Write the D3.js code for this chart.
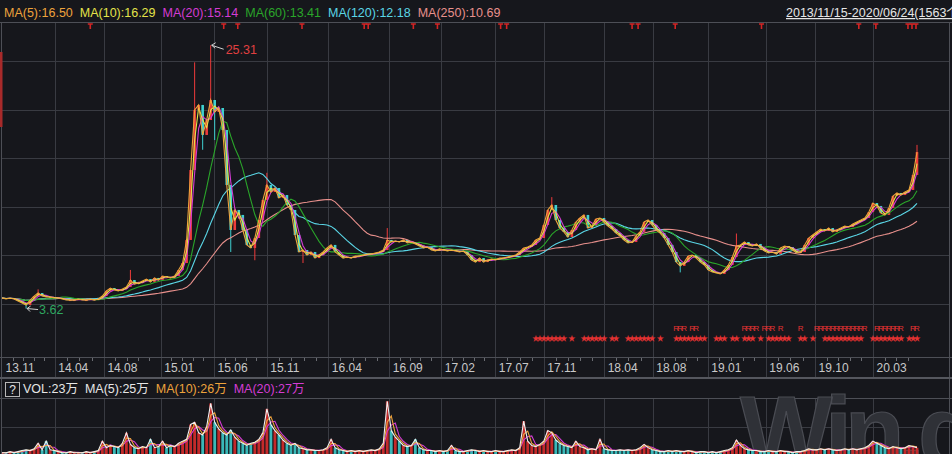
<!DOCTYPE html>
<html><head><meta charset="utf-8">
<script src="https://cdn.jsdelivr.net/npm/d3@7"></script>
<style>
html,body{margin:0;padding:0;background:#16171c;overflow:hidden}
svg{display:block;font-family:"Liberation Sans",Arial,"Noto Sans CJK SC",sans-serif}
</style></head><body>
<svg id="c" width="952" height="454"></svg>
<script>
// ---- data (sampled roughly every ~7 trading days, 2013/11/15 - 2020/06/24) ----
const closes = [
4.49,4.41,4.49,4.41,4.24,4.08,3.91,4.32,4.65,4.90,
4.65,4.57,4.57,4.49,4.49,4.41,4.32,4.32,4.32,4.41,
4.32,4.32,4.41,4.32,4.41,4.65,5.07,5.31,5.15,5.07,
5.23,5.40,5.97,5.64,5.72,5.89,6.05,5.81,6.14,5.97,
6.30,6.22,6.14,6.30,6.80,7.37,9.27,15.03,19.98,20.39,
17.92,19.15,20.80,19.81,20.14,18.33,13.80,10.09,11.74,11.33,
10.09,8.86,8.61,9.43,10.91,12.56,13.80,13.22,13.55,12.73,
12.97,12.15,11.74,9.68,8.28,8.44,8.03,8.28,7.78,8.03,
8.28,8.61,8.86,8.28,8.03,7.78,7.87,7.78,7.95,7.95,
8.03,8.11,8.11,8.20,8.28,8.44,9.27,9.10,9.18,9.10,
9.27,9.02,9.10,8.94,8.77,8.61,8.69,8.44,8.36,8.53,
8.44,8.36,8.44,8.36,8.28,8.36,8.03,7.62,7.45,7.78,
7.45,7.62,7.70,7.62,7.78,7.78,7.87,7.95,8.03,8.28,
8.61,8.69,8.86,9.27,9.43,10.50,11.74,12.15,10.91,10.25,
9.93,9.51,10.09,10.75,11.08,11.33,10.25,10.42,11.00,11.08,
10.75,10.42,10.17,9.84,9.60,9.27,9.02,9.10,9.60,9.93,
10.75,10.91,10.50,10.09,9.84,9.43,8.86,8.28,7.45,7.13,
7.45,7.95,8.03,7.78,7.45,7.21,6.80,6.63,6.55,6.47,
6.80,7.21,7.87,8.77,8.86,9.10,8.86,8.77,8.94,8.61,
8.36,8.20,8.28,8.11,8.61,8.77,8.69,8.44,8.20,8.28,
8.86,9.43,9.68,9.93,10.17,10.01,10.25,9.93,10.09,10.25,
10.42,10.34,10.58,10.75,10.91,11.08,11.57,12.31,12.07,11.49,
11.33,11.90,12.89,13.14,12.97,13.22,13.39,14.62,16.51
];
const volumes = [
9,9,12,9,12,15,17,15,20,35,
17,41,17,15,12,9,9,12,9,9,
9,12,9,12,15,41,23,29,26,23,
35,64,32,23,20,26,23,46,23,26,
41,23,29,26,35,41,46,87,93,64,
58,81,145,93,75,64,58,72,52,41,
35,29,35,38,46,64,130,87,70,58,
44,35,29,35,23,20,17,17,15,15,
17,23,46,23,17,15,12,15,12,15,
12,15,17,15,20,35,151,70,52,41,
29,26,29,46,23,17,15,15,12,15,
12,15,29,15,12,12,15,17,15,12,
15,12,12,15,12,12,15,17,15,23,
96,41,29,26,32,41,70,64,44,35,
29,26,23,41,26,23,17,20,17,46,
20,17,15,15,17,15,17,15,17,23,
32,23,17,15,12,12,15,12,15,12,
12,15,12,9,12,12,9,12,9,12,
15,17,23,44,29,20,17,15,15,12,
12,15,12,12,15,12,12,9,12,12,
15,20,17,17,20,17,20,17,15,17,
20,17,20,17,20,23,29,41,35,29,
23,20,26,23,20,23,29,26,23
];
// notable wicks (sample index, high, low)
const extremeIdx  = [6, 9, 32, 48, 50, 52, 53, 57, 63, 66, 75, 96, 137, 169, 183, 228];
const extremeHigh = [null, 5.20, 6.80, 23.90, null, 25.31, null, null, null, 14.80, null, 10.25, 12.80, null, 9.80, 17.10];
const extremeLow  = [3.62, null, null, null, 16.70, null, 17.50, 8.28, 7.60, null, 7.37, null, null, 6.60, null, null];
const peakIdx = 52, peakVal = 25.31, lowIdx = 6, lowVal = 3.62;

const totalDays = 1563;
const tickLabels = ["13.11","14.04","14.08","15.01","15.06","15.11","16.04","16.09","17.02","17.07","17.11","18.04","18.08","19.01","19.06","19.10","20.03"];
const tickDays   = [0,90,174,271,362,452,557,661,750,842,925,1028,1111,1205,1304,1388,1487];
const monthsBetween = [5,4,5,5,5,5,5,5,5,4,5,4,5,5,4,5];
const priceTicks = [4,8,12,16,20,24];

const maNames  = ["MA(5)","MA(10)","MA(20)","MA(60)","MA(120)","MA(250)"];
const maLast   = ["16.50","16.29","15.14","13.41","12.18","10.69"];
const maColors = ["#eea33c","#e4e44a","#d43cd4","#2aa52a","#5ad6e6","#e8908c"];
const maSpan   = [1,2,3,9,18,36];   // window in samples (~5,10,20,60,120,250 days)

const volLabels = ["VOL:23万","MA(5):25万","MA(10):26万","MA(20):27万"];
const volColors = ["#e6e6e6","#e6e6e6","#eea33c","#d43cd4"];
const volSpan   = [1,2,3];
const volLineColors = ["#f0f0f0","#eea33c","#d43cd4"];

const eventIdx = [22,55.25,58.75,74.75,90.25,91.25,102.5,108.5,124.25,125.75,157,158.5,167.75,189.25,213.5,217.75,225.75,226.75,227.75];
const starIdx = [133,134,135,136,137,138,139,140,142,145,146,147,148,149,150,152,153,156,157,158,159,160,161,162,164,168,169,170,171,172,173,174,175,178,179,180,182,183,185,186,187,189,191,192,193,194,195,196,199,200,202,205,206,207,208,209,210,211,212,213,214,217,218,219,220,221,222,223,224,226,227,228];
const rIdx = [168,169,170,172,173,185,186,187,188,190,191,192,194,199,203,204,205,206,207,208,209,210,211,212,213,214,215,218,219,220,221,222,223,224,227,228];

const dateRange = "2013/11/15-2020/06/24(1563个交易日)";

// ---- drawing ----
const svg = d3.select('#c');
const W = 952, H = 454;
const N = closes.length;
const xDay = d3.scaleLinear().domain([0, totalDays-1]).range([2, 917]);
const sx = k => xDay(k*(totalDays-1)/(N-1));
const yP = d3.scaleLinear().domain([0, 24]).range([352.5, 352.5-24*12.14]);
const yV = d3.scaleLinear().domain([0, 80]).range([456, 427]);

const GRID = "#393b42", BORDER = "#4d4f56", UP = "#ee3b3b", DOWN = "#3fd0d0";

svg.append('rect').attr('width',W).attr('height',H).attr('fill','#16171c');

const defs = svg.append('defs');
defs.append('clipPath').attr('id','pc').append('rect').attr('x',2).attr('y',23).attr('width',947).attr('height',334);
defs.append('clipPath').attr('id','vc').append('rect').attr('x',2).attr('y',399).attr('width',947).attr('height',60);
defs.append('clipPath').attr('id','wc').append('rect').attr('x',0).attr('y',0).attr('width',W).attr('height',H);

// grid
const g = svg.append('g');
g.selectAll('.hp').data(priceTicks).join('line')
  .attr('x1',2).attr('x2',949).attr('y1',d=>Math.round(yP(d))+0.5).attr('y2',d=>Math.round(yP(d))+0.5)
  .attr('stroke',GRID);
g.selectAll('.vg').data(tickDays.slice(1)).join('line')
  .attr('x1',d=>Math.round(xDay(d))+0.5).attr('x2',d=>Math.round(xDay(d))+0.5)
  .attr('y1',23).attr('y2',377).attr('stroke',GRID);
g.selectAll('.vg2').data(tickDays.slice(1)).join('line')
  .attr('x1',d=>Math.round(xDay(d))+0.5).attr('x2',d=>Math.round(xDay(d))+0.5)
  .attr('y1',399).attr('y2',H).attr('stroke',GRID);
g.append('line').attr('x1',2).attr('x2',949).attr('y1',Math.round(yV(80))+0.5).attr('y2',Math.round(yV(80))+0.5).attr('stroke',GRID);

// borders
const b = svg.append('g').attr('stroke',BORDER).attr('fill','none');
b.append('line').attr('x1',0).attr('x2',W).attr('y1',22.5).attr('y2',22.5);
b.append('line').attr('x1',1.5).attr('x2',1.5).attr('y1',22).attr('y2',H);
b.append('line').attr('x1',949.5).attr('x2',949.5).attr('y1',22).attr('y2',H);
b.append('line').attr('x1',0).attr('x2',W).attr('y1',357.5).attr('y2',357.5);
b.append('line').attr('x1',0).attr('x2',W).attr('y1',378).attr('y2',378).attr('stroke-width',2).attr('stroke','#55575e');
b.append('line').attr('x1',0).attr('x2',W).attr('y1',398.5).attr('y2',398.5);
svg.append('rect').attr('x',0).attr('y',52).attr('width',2.5).attr('height',75).attr('fill','#a82a2a');

// watermark (cropped by the frame, as in the original)
svg.append('g').attr('clip-path','url(#wc)').append('text').attr('x',740).attr('y',465).attr('font-size',98).attr('font-weight','bold')
  .attr('letter-spacing',-7)
  .attr('fill','#2f3137').attr('stroke','#4a4c53').attr('stroke-width',1.2)
  .attr('font-family','"Liberation Sans",Arial,sans-serif').text('Win.d');

// candles
const opens = closes.map((c,i)=> i===0 ? c : closes[i-1]);
const highs = closes.map((c,i)=> Math.max(c, opens[i]));
const lows  = closes.map((c,i)=> Math.min(c, opens[i]));
extremeIdx.forEach((k,j)=>{ if(extremeHigh[j]!=null) highs[k]=extremeHigh[j]; if(extremeLow[j]!=null) lows[k]=extremeLow[j]; });
const candles = closes.map((c,i)=>({i, o:opens[i], c, h:highs[i], l:lows[i], up: c>=opens[i]}));

const pc = svg.append('g').attr('clip-path','url(#pc)');
pc.selectAll('.wk').data(candles).join('line')
  .attr('x1',d=>sx(d.i)).attr('x2',d=>sx(d.i)).attr('y1',d=>yP(d.h)).attr('y2',d=>yP(d.l))
  .attr('stroke',d=>d.up?UP:DOWN).attr('stroke-width',1);
pc.selectAll('.bd').data(candles).join('rect')
  .attr('x',d=>sx(d.i)-1.3).attr('width',2.6)
  .attr('y',d=>Math.min(yP(d.o),yP(d.c))).attr('height',d=>Math.max(1,Math.abs(yP(d.o)-yP(d.c))))
  .attr('fill',d=>d.up?UP:DOWN);

function movAvg(arr, w){
  return arr.map((v,i)=>{ const s=Math.max(0,i-w+1); return d3.mean(arr.slice(s,i+1)); });
}
const lineP = d3.line().x((d,i)=>sx(i)).y(d=>yP(d));
[5,4,3,2,1,0].forEach(j=>{
  pc.append('path').datum(movAvg(closes, maSpan[j])).attr('d',lineP)
    .attr('fill','none').attr('stroke',maColors[j]).attr('stroke-width',1.1);
});

// event flags on top
svg.selectAll('.ev').data(eventIdx).join('path')
  .attr('d',d=>{const x=sx(d); return `M${x-2.5},24 H${x+2.5} M${x},24 V29`;})
  .attr('stroke','#d42424').attr('stroke-width',1.6).attr('fill','none');

// star / R marker rows: consecutive samples merged into one text run,
// letter-spacing chosen so each glyph advances exactly one sample step
function runs(idx){
  const out=[]; let cur=[idx[0]];
  for(let i=1;i<idx.length;i++){ if(idx[i]===idx[i-1]+1) cur.push(idx[i]); else { out.push(cur); cur=[idx[i]]; } }
  out.push(cur); return out;
}
function drawRuns(idx, glyph, y, size){
  const probe = svg.append('text').attr('font-size',size).text(glyph);
  const w = probe.node().getComputedTextLength(); probe.remove();
  const step = sx(1)-sx(0);
  runs(idx).forEach(r=>{
    svg.append('text').attr('x',sx(r[0])-w/2).attr('y',y).attr('font-size',size).attr('fill','#e23232')
      .attr('letter-spacing',(step-w).toFixed(2))
      .text(glyph.repeat(r.length));
  });
}
drawRuns(starIdx,'★',341,7.5);
drawRuns(rIdx,'R',330.5,8);

// high / low annotations
{
  const px = sx(peakIdx), py = yP(peakVal);
  svg.append('path').attr('d',`M${px+1},${py} L${px+13},${py+4} M${px+1},${py} l4,-2.5 M${px+1},${py} l3.5,3`)
    .attr('stroke','#d0d0d0').attr('fill','none').attr('stroke-width',1);
  svg.append('text').attr('x',px+15).attr('y',py+9).attr('font-size',12.5).attr('fill','#e04040').text(peakVal.toFixed(2));
  const lx = sx(lowIdx), ly = yP(lowVal);
  svg.append('path').attr('d',`M${lx+1},${ly} L${lx+12},${ly+1} M${lx+1},${ly} l3.5,-2.5 M${lx+1},${ly} l3,3`)
    .attr('stroke','#d0d0d0').attr('fill','none').attr('stroke-width',1);
  svg.append('text').attr('x',lx+13).attr('y',ly+5.5).attr('font-size',12.5).attr('fill','#2fa860').text(lowVal.toFixed(2));
}

// x axis
const ax = svg.append('g').attr('transform','translate(0,357.5)')
  .call(d3.axisBottom(xDay).tickValues(tickDays).tickFormat((d,i)=>tickLabels[i]).tickSize(0));
ax.select('.domain').remove();
ax.selectAll('text').attr('text-anchor','start').attr('x',3).attr('y',14).attr('dy',0)
  .attr('fill','#c9c9c9').attr('font-size',12).attr('font-family','"Liberation Sans",Arial,sans-serif');
// minor month ticks
const minor = [];
monthsBetween.forEach((m,j)=>{ for(let q=1;q<m;q++) minor.push(tickDays[j]+(tickDays[j+1]-tickDays[j])*q/m); });
for(let q=1;q<=3;q++) minor.push(tickDays[tickDays.length-1]+q*20);
svg.selectAll('.mt').data(minor).join('line')
  .attr('x1',d=>Math.round(xDay(d))+0.5).attr('x2',d=>Math.round(xDay(d))+0.5)
  .attr('y1',358).attr('y2',361).attr('stroke','#6a6c72');

// volume panel
const vc = svg.append('g').attr('clip-path','url(#vc)');
vc.selectAll('.vb').data(volumes).join('rect')
  .attr('x',(d,i)=>sx(i)-1.4).attr('width',2.8)
  .attr('y',d=>yV(d)).attr('height',d=>yV(0)-yV(d))
  .attr('fill',(d,i)=> (i<N && candles[i].up) ? '#c42a2a' : '#3ab8b8');
const lineV = d3.line().x((d,i)=>sx(i)).y(d=>yV(d));
[2,1,0].forEach(j=>{
  vc.append('path').datum(movAvg(volumes, volSpan[j])).attr('d',lineV)
    .attr('fill','none').attr('stroke',volLineColors[j]).attr('stroke-width',1.1);
});

// top legend
{
  let x = 4;
  const lg = svg.append('g');
  maNames.forEach((n,j)=>{
    const t = lg.append('text').attr('x',x).attr('y',17).attr('font-size',12.5).attr('fill',maColors[j]).text(n+':'+maLast[j]);
    x += t.node().getComputedTextLength() + 7;
  });
  svg.append('g').attr('clip-path','url(#wc)').append('text').attr('x',786).attr('y',17).attr('font-size',12.5).attr('fill','#e6e6e6')
    .attr('text-decoration','underline').text(dateRange);
}
// volume legend
{
  svg.append('rect').attr('x',5.5).attr('y',382.5).attr('width',14).attr('height',14).attr('fill','none').attr('stroke','#b8b8b8');
  svg.append('text').attr('x',12.5).attr('y',394).attr('text-anchor','middle').attr('font-size',12).attr('fill','#e6e6e6').text('?');
  let x = 23;
  volLabels.forEach((n,j)=>{
    const t = svg.append('text').attr('x',x).attr('y',393).attr('font-size',12.5).attr('fill',volColors[j]).text(n);
    x += t.node().getComputedTextLength() + 7;
  });
}
</script>
</body></html>
